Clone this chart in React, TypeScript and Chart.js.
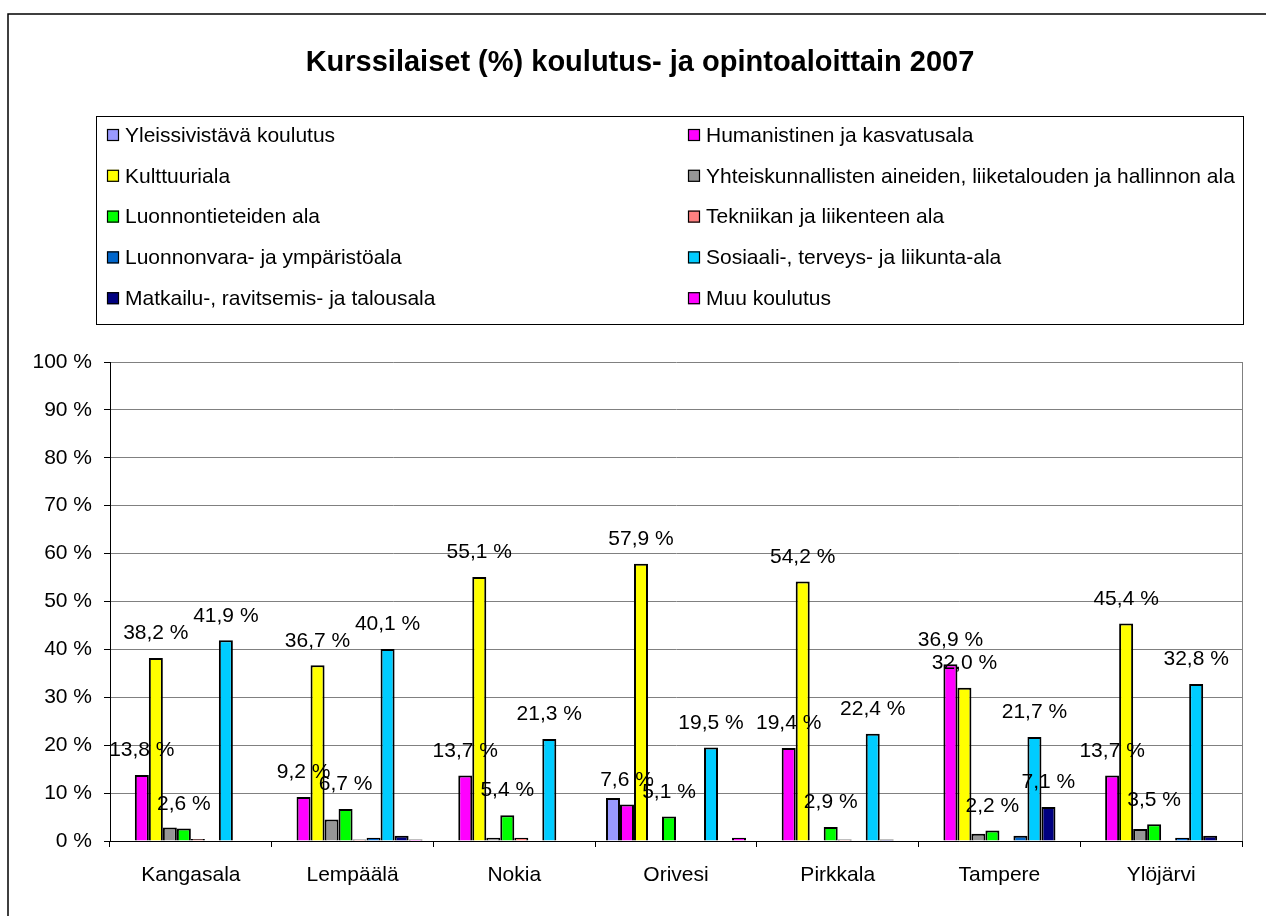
import React, { useEffect, useRef } from "react";
import { Chart, registerables } from "chart.js";

Chart.register(...registerables);

const TITLE = "Kurssilaiset (%) koulutus- ja opintoaloittain 2007";
const categories = ["Kangasala", "Lempäälä", "Nokia", "Orivesi", "Pirkkala", "Tampere", "Ylöjärvi"];

const seriesNames = [
  "Yleissivistävä koulutus",
  "Humanistinen ja kasvatusala",
  "Kulttuuriala",
  "Yhteiskunnallisten aineiden, liiketalouden ja hallinnon ala",
  "Luonnontieteiden ala",
  "Tekniikan ja liikenteen ala",
  "Luonnonvara- ja ympäristöala",
  "Sosiaali-, terveys- ja liikunta-ala",
  "Matkailu-, ravitsemis- ja talousala",
  "Muu koulutus",
];

const yleissivistava = [0, 0, 0, 9.0, 0, 0, 0];
const humanistinen = [13.8, 9.2, 13.7, 7.6, 19.4, 36.9, 13.7];
const kulttuuri = [38.2, 36.7, 55.1, 57.9, 54.2, 32.0, 45.4];
const yhteiskunnalliset = [2.8, 4.5, 0.7, 0, 0, 1.5, 2.5];
const luonnontieteet = [2.6, 6.7, 5.4, 5.1, 2.9, 2.2, 3.5];
const tekniikka = [0.4, 0.3, 0.7, 0, 0.3, 0, 0];
const luonnonvara = [0, 0.7, 0, 0, 0, 1.1, 0.7];
const sosiaali = [41.9, 40.1, 21.3, 19.5, 22.4, 21.7, 32.8];
const matkailu = [0, 1.1, 0, 0, 0.3, 7.1, 1.1];
const muu = [0, 0.3, 0, 0.7, 0, 0, 0];

const seriesValues = [
  yleissivistava, humanistinen, kulttuuri, yhteiskunnalliset, luonnontieteet,
  tekniikka, luonnonvara, sosiaali, matkailu, muu,
];

const seriesColors = [
  "#9999FF", "#FF00FF", "#FFFF00", "#969696", "#00FF00",
  "#FF8080", "#0066CC", "#00CCFF", "#000080", "#FF00FF",
];

// series that carry data labels, and the smallest labelled value
const labelledSeries = [1, 2, 4, 7, 8];
const labelMin = 2;

const yTicks = [0, 10, 20, 30, 40, 50, 60, 70, 80, 90, 100];

const FONT = "'Liberation Sans', Arial, sans-serif";

const fmt = (v: number) => v.toFixed(1).replace(".", ",") + " %";

const decorPlugin = {
  id: "decor",
  beforeDraw(chart: any) {
    const ctx = chart.ctx;
    ctx.save();
    ctx.fillStyle = "#ffffff";
    ctx.fillRect(0, 0, chart.width, chart.height);
    ctx.restore();
  },
  afterDatasetsDraw(chart: any) {
    const ctx = chart.ctx;
    ctx.save();
    ctx.font = `21px ${FONT}`;
    ctx.fillStyle = "#000";
    ctx.textAlign = "center";
    ctx.textBaseline = "bottom";
    labelledSeries.forEach((di) => {
      const meta = chart.getDatasetMeta(di);
      meta.data.forEach((bar: any, i: number) => {
        const v = seriesValues[di][i];
        if (v >= labelMin) {
          ctx.fillText(fmt(v), bar.x, bar.y - 14);
        }
      });
    });
    ctx.restore();
  },
  afterDraw(chart: any) {
    const ctx = chart.ctx;
    const a = chart.chartArea;
    ctx.save();
    // right border of plot area
    ctx.strokeStyle = "#808080";
    ctx.lineWidth = 1;
    ctx.beginPath();
    ctx.moveTo(Math.round(a.right) + 0.5, a.top);
    ctx.lineTo(Math.round(a.right) + 0.5, a.bottom);
    ctx.stroke();

    // outer frame
    ctx.strokeStyle = "#000";
    ctx.lineWidth = 1.5;
    ctx.strokeRect(8, 14, 2000, 2000);

    // title
    ctx.fillStyle = "#000";
    ctx.font = `bold 29px ${FONT}`;
    ctx.textAlign = "center";
    ctx.textBaseline = "middle";
    ctx.fillText(TITLE, 640, 63);

    // legend box
    ctx.strokeStyle = "#000";
    ctx.lineWidth = 1;
    ctx.strokeRect(96.5, 116.5, 1147, 208);
    ctx.font = `21px ${FONT}`;
    ctx.textAlign = "left";
    chart.data.datasets.forEach((ds: any, i: number) => {
      const col = i % 2;
      const row = Math.floor(i / 2);
      const x = col === 0 ? 107 : 688;
      const y = 135 + row * 40.8;
      ctx.fillStyle = ds.backgroundColor;
      ctx.fillRect(x, y - 6, 12, 12);
      ctx.strokeStyle = "#000";
      ctx.lineWidth = 1.2;
      ctx.strokeRect(x + 0.5, y - 5.5, 11, 11);
      ctx.fillStyle = "#000";
      ctx.fillText(ds.label, x + 18, y + 1);
    });
    ctx.restore();
  },
};

export default function App() {
  const ref = useRef<HTMLCanvasElement | null>(null);

  useEffect(() => {
    document.body.style.margin = "0";
    const canvas = ref.current;
    if (!canvas) return;
    const chart = new Chart(canvas, {
      type: "bar",
      data: {
        labels: categories,
        datasets: seriesNames.map((name, i) => ({
          label: name,
          data: seriesValues[i],
          backgroundColor: seriesColors[i],
          borderColor: "#000000",
          borderWidth: 2,
          categoryPercentage: 0.866,
          barPercentage: 1,
        })),
      },
      options: {
        responsive: false,
        animation: false,
        layout: { padding: { left: 0, top: 362, right: 24, bottom: 0 } },
        plugins: {
          legend: { display: false },
          title: { display: false },
          tooltip: { enabled: false },
        },
        scales: {
          x: {
            offset: true,
            grid: {
              offset: true,
              drawOnChartArea: false,
              drawTicks: true,
              tickLength: 6,
              tickColor: "#000",
            },
            border: { color: "#000", width: 1 },
            ticks: {
              color: "#000",
              font: { family: FONT, size: 21 },
              padding: 16,
              maxRotation: 0,
            },
            afterFit: (scale: any) => {
              scale.height = 75;
            },
          },
          y: {
            min: 0,
            max: 100,
            afterBuildTicks: (scale: any) => {
              scale.ticks = yTicks.map((v) => ({ value: v }));
            },
            grid: {
              color: "#808080",
              lineWidth: 1,
              tickLength: 6,
              tickColor: "#000",
            },
            border: { color: "#000", width: 1 },
            ticks: {
              color: "#000",
              font: { family: FONT, size: 21 },
              padding: 12,
              callback: (v: any) => `${v} %`,
            },
            afterFit: (scale: any) => {
              scale.width = 110;
            },
          },
        },
      },
      plugins: [decorPlugin],
    });
    return () => chart.destroy();
  }, []);

  return (
    <div style={{ position: "relative", width: 1266, height: 916, overflow: "hidden", background: "#fff" }}>
      <canvas ref={ref} width={1266} height={916} style={{ display: "block", width: 1266, height: 916 }} />
    </div>
  );
}
